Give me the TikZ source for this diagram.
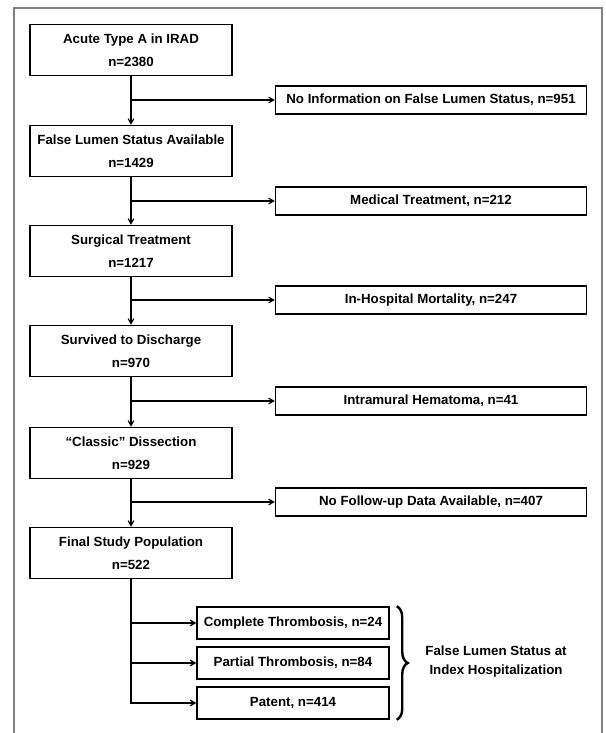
\documentclass[tikz,border=0pt]{standalone}
\usepackage{fontspec}
\setmainfont{Liberation Sans}
\usetikzlibrary{positioning,arrows,decorations.pathreplacing}
\tikzset{
>=angle 60, % open arrow heads
every node/.style={font=\bfseries\fontsize{13.3}{23}\selectfont},
stepbox/.style={draw, line width=1.5pt, minimum width=202pt, minimum height=51pt, align=center, inner sep=0pt},
exclbox/.style={draw, line width=1.5pt, minimum width=311pt, minimum height=28pt, inner sep=0pt},
subbox/.style={draw, line width=1.5pt, minimum width=192pt, minimum height=32pt, inner sep=0pt},
}

\begin{document}
\begin{tikzpicture}[x=1pt, y=-1pt, line width=1.2pt]
    \useasboundingbox (0,0) rectangle (605,733);
    \draw[black!50, line width=1.3pt] (14,745) -- (14,8) -- (602,8) -- (602,745);
    \node[stepbox] at (131,50) (a1) {Acute Type A in IRAD\\n=2380};
    \node[stepbox] at (131,151) (a2) {False Lumen Status Available\\n=1429};
    \node[stepbox] at (131,251) (a3) {Surgical Treatment\\n=1217};
    \node[stepbox] at (131,351) (a4) {Survived to Discharge\\n=970};
    \node[stepbox] at (131,453) (a5) {``Classic'' Dissection\\n=929};
    \node[stepbox] at (131,553) (a6) {Final Study Population\\n=522};
    \node[exclbox] at (431,100) (r1) {No Information on False Lumen Status, n=951};
    \node[exclbox] at (431,201) (r2) {Medical Treatment, n=212};
    \node[exclbox] at (431,300) (r3) {In-Hospital Mortality, n=247};
    \node[exclbox] at (431,401) (r4) {Intramural Hematoma, n=41};
    \node[exclbox] at (431,502) (r5) {No Follow-up Data Available, n=407};
    \node[subbox] at (293,623) (cmp) {Complete Thrombosis, n=24};
    \node[subbox] at (293,663) (par) {Partial Thrombosis, n=84};
    \node[subbox] at (293,703) (pat) {Patent, n=414};
    \node[align=center, font=\bfseries\fontsize{13.3}{19}\selectfont] at (496,662) (fl) {False Lumen Status at\\Index Hospitalization};
    \draw[->]
    (a1) edge (a2)
    (a2) edge (a3)
    (a3) edge (a4)
    (a4) edge (a5)
    (a5) edge (a6)
    (a1.south |- r1) edge (r1)
    (a2.south |- r2) edge (r2)
    (a3.south |- r3) edge (r3)
    (a4.south |- r4) edge (r4)
    (a5.south |- r5) edge (r5)
    (a6.south |- cmp) edge (cmp)
    (a6.south |- par) edge (par)
    (a6.south) |- (pat)
    ;
    \draw[decorate, decoration={brace, amplitude=11pt}, line width=2.4pt]
    ([xshift=7pt]cmp.north east) -- ([xshift=7pt]pat.south east);
\end{tikzpicture}
\end{document}
